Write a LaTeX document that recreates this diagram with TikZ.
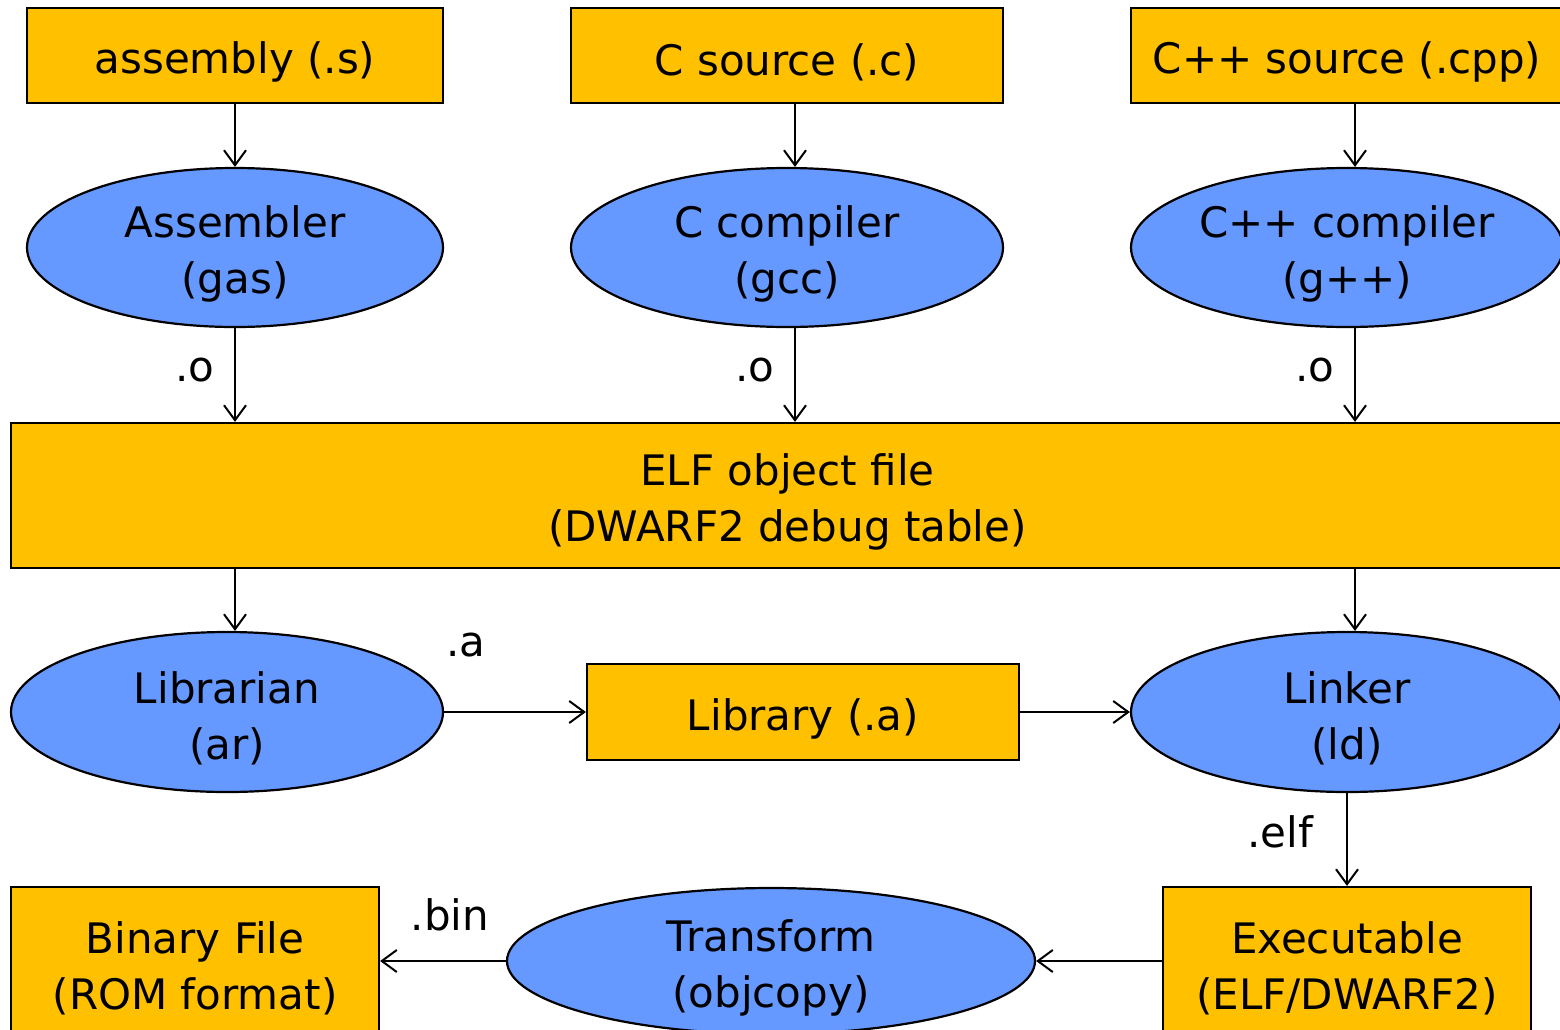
\documentclass[tikz,border=0pt]{standalone}
\usepackage{fontspec}
\setmainfont{DejaVu Sans}
\usetikzlibrary{shapes.geometric,arrows.meta}
\definecolor{filebox}{HTML}{FFC000}
\definecolor{toolfill}{HTML}{6699FF}
\tikzset{
  boxtext/.style={inner sep=0pt, align=center, yshift=-6.5pt,
    font=\fontsize{42}{56}\selectfont},
  filenode/.style={draw=black, line width=2.2pt, fill=filebox, rectangle,
    inner sep=0pt, label={[boxtext]center:#1}},
  toolnode/.style={draw=black, line width=2.2pt, fill=toolfill, ellipse,
    inner sep=0pt, label={[boxtext]center:#1}},
  flow/.style={draw=black, line width=2pt,
    -{Straight Barb[length=15pt,width=22pt,line width=2pt]}},
  tag/.style={inner sep=0pt, font=\fontsize{42}{56}\selectfont}
}
\begin{document}
\begin{tikzpicture}[x=1pt, y=-1pt]
\clip (0,0) rectangle (1560,1029);
\fill[white] (0,0) rectangle (1560,1029);

% source files
\node[filenode={assembly (.s)},     minimum width=416pt, minimum height=95pt] (asm)  at (235,55.5)  {};
\node[filenode={C source (.c)},     minimum width=432pt, minimum height=95pt] (csrc) at (787,55.5)  {};
\node[filenode={C++ source (.cpp)}, minimum width=432pt, minimum height=95pt] (cpp)  at (1347,55.5) {};

% compilers
\node[toolnode={Assembler\\(gas)},    minimum width=416pt, minimum height=159pt] (gas) at (235,247.5)  {};
\node[toolnode={C compiler\\(gcc)},   minimum width=432pt, minimum height=159pt] (gcc) at (787,247.5)  {};
\node[toolnode={C++ compiler\\(g++)}, minimum width=432pt, minimum height=159pt] (gpp) at (1347,247.5) {};

% object file
\node[filenode={ELF object file\\(DWARF2 debug table)}, minimum width=1553pt, minimum height=145pt] (elf) at (787.5,495.5) {};

% archiving and linking
\node[toolnode={Librarian\\(ar)}, minimum width=432pt, minimum height=160pt] (ar)  at (227,712)  {};
\node[filenode={Library (.a)},    minimum width=432pt, minimum height=96pt]  (lib) at (803,712)  {};
\node[toolnode={Linker\\(ld)},    minimum width=432pt, minimum height=160pt] (ld)  at (1347,712) {};

% final images
\node[filenode={Executable\\(ELF/DWARF2)}, minimum width=368pt, minimum height=150pt] (exe) at (1347,962) {};
\node[toolnode={Transform\\(objcopy)},     minimum width=528pt, minimum height=146pt] (tr)  at (771,961)  {};
\node[filenode={Binary File\\(ROM format)}, minimum width=368pt, minimum height=150pt] (bin) at (195,962)  {};

% sources to compilers
\draw[flow] (asm.south) -- (gas.north);
\draw[flow] ([xshift=8pt]csrc.south) -- ([xshift=8pt]gcc.north);
\draw[flow] ([xshift=8pt]cpp.south) -- ([xshift=8pt]gpp.north);

% compilers to object file
\draw[flow] (gas.south) -- (gas.south |- elf.north);
\draw[flow] ([xshift=8pt]gcc.south) -- ([xshift=8pt]gcc.south |- elf.north);
\draw[flow] ([xshift=8pt]gpp.south) -- ([xshift=8pt]gpp.south |- elf.north);
\node[tag] (o1) at (195,370)  {.o};
\node[tag] (o2) at (755,370)  {.o};
\node[tag] (o3) at (1315,370) {.o};

% object file to librarian and linker
\draw[flow] (gas.south |- elf.south) -- ([xshift=8pt]ar.north);
\draw[flow] ([xshift=8pt]gpp.south |- elf.south) -- ([xshift=8pt]ld.north);

% library path
\draw[flow] (ar.east) -- (lib.west);
\node[tag] (a) at (466,645) {.a};
\draw[flow] (lib.east) -- (ld.west);

% link and convert
\draw[flow] (ld.south) -- (exe.north);
\node[tag] (elftag) at (1280,832) {.elf};
\draw[flow] (exe.west |- tr.east) -- (tr.east);
\draw[flow] (tr.west) -- (bin.east |- tr.west);
\node[tag] (bintag) at (450,915) {.bin};
\end{tikzpicture}
\end{document}
